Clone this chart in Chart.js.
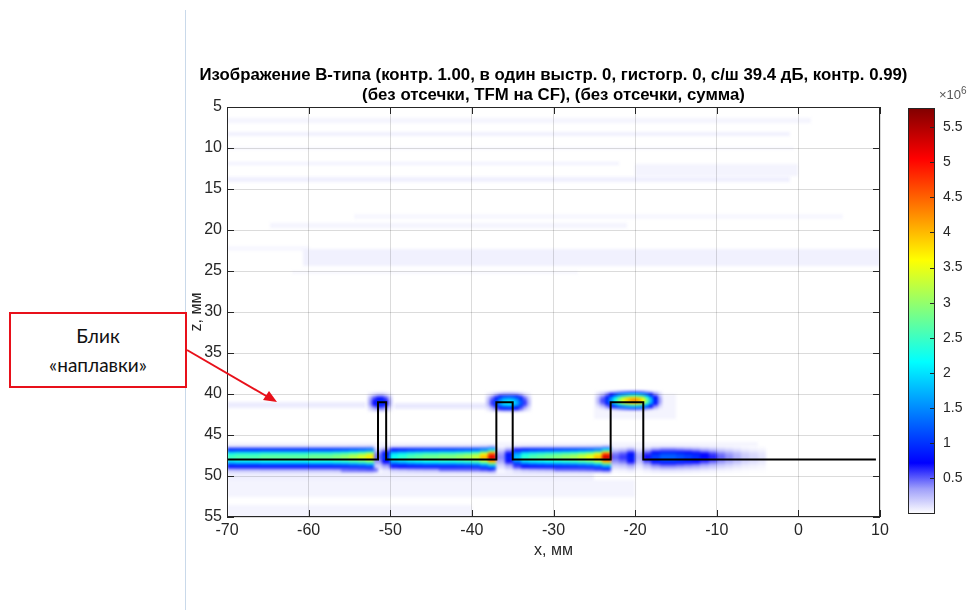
<!DOCTYPE html>
<html>
<head>
<meta charset="utf-8">
<script src="https://cdn.jsdelivr.net/npm/chart.js@4/dist/chart.umd.min.js"></script>
<style>
  body { margin: 0; width: 977px; height: 610px; position: relative; overflow: hidden; background: #fff; font-family: "Liberation Sans", Arial, sans-serif; }
  #main { position: absolute; left: 0; top: 0; }
  #cbar { position: absolute; left: 900px; top: 90px; }
  #divider { position: absolute; left: 185px; top: 10px; width: 1px; height: 600px; background: #c9d9ea; }
  #note { position: absolute; left: 9px; top: 312px; width: 174px; height: 72px; border: 2px solid #e8101a; background: #fff;
          display: flex; flex-direction: column; justify-content: center; align-items: center;
          font-family: Lato, "Open Sans", sans-serif; font-size: 19px; line-height: 29px; color: #111; }
  #arrow { position: absolute; left: 0; top: 0; }
  #exp { position: absolute; left: 939px; top: 85px; font-size: 13px; color: #555; }
  #exp sup { font-size: 10px; }
</style>
</head>
<body>
<div id="divider"></div>
<canvas id="main" width="977" height="610"></canvas>
<canvas id="cbar" width="77" height="440"></canvas>
<div id="exp">×10<sup>6</sup></div>
<div id="note"><div>Блик</div><div>«наплавки»</div></div>
<svg id="arrow" width="977" height="610">
  <line x1="187" y1="350" x2="268" y2="397" stroke="#e8101a" stroke-width="2"/>
  <polygon points="277,402 263,400 269,391" fill="#e8101a"/>
</svg>
<script>
// ---- data (amplitudes in 10^6, coordinates in mm) ----
const titleLines = [
  'Изображение B-типа (контр. 1.00, в один выстр. 0, гистогр. 0, с/ш 39.4 дБ, контр. 0.99)',
  '(без отсечки, TFM на CF), (без отсечки, сумма)'
];
const xTicks = [-70, -60, -50, -40, -30, -20, -10, 0, 10];
const zTicks = [5, 10, 15, 20, 25, 30, 35, 40, 45, 50, 55];
const cbTicks = [0.5, 1, 1.5, 2, 2.5, 3, 3.5, 4, 4.5, 5, 5.5];
const cbMax = 5.77;

// black weld profile
const profileX = [-70, -51.5, -51.5, -50.5, -50.5, -37, -37, -35, -35, -23, -23, -19, -19, 9.5];
const profileZ = [48, 48, 41, 41, 48, 48, 41, 41, 48, 48, 41, 41, 48, 48];

// bright bottom band: peak per 1 mm column starting at bandX
const bandX = [-70, -69, -68, -67, -66, -65, -64, -63, -62, -61, -60, -59, -58, -57, -56, -55, -54, -53,
  -52, -51,
  -50, -49, -48, -47, -46, -45, -44, -43, -42, -41, -40, -39, -38,
  -37, -36,
  -35, -34, -33, -32, -31, -30, -29, -28, -27, -26, -25, -24,
  -23, -22, -21, -20,
  -19, -18, -17, -16, -15, -14, -13, -12, -11, -10, -9, -8, -7, -6, -5];
const bandPeak = [2.6, 2.7, 2.7, 2.7, 2.8, 2.8, 2.8, 2.8, 2.8, 2.8, 2.9, 2.9, 2.9, 3.0, 3.1, 3.3, 3.5, 3.8,
  0.5, 1.0,
  2.3, 2.5, 2.7, 2.8, 2.9, 2.9, 3.0, 3.0, 3.1, 3.2, 3.4, 4.1, 5.3,
  0.4, 0.9,
  1.9, 2.5, 2.7, 2.8, 2.9, 3.0, 3.1, 3.2, 3.4, 3.6, 4.1, 5.4,
  0.5, 0.6, 0.9, 0.3,
  0.7, 1.1, 1.3, 1.3, 1.2, 1.1, 1.0, 0.8, 0.65, 0.5, 0.4, 0.3, 0.2, 0.15, 0.1];
// band cross-section (row centres in z, share of the column peak)
const bandRowZ = [46.45, 46.75, 47.05, 47.35, 47.65, 47.95, 48.25, 48.55, 48.85, 49.15, 49.45];
const bandShare = [0.08, 0.35, 0.65, 0.9, 1.0, 0.95, 0.75, 0.5, 0.3, 0.15, 0.06];

// reflections above the crown (0.5 mm columns)
const blobAX = [-52.5, -52, -51.5, -51, -50.5, -50];
const blobA = [0.35, 0.7, 0.95, 1.0, 0.7, 0.3];
const blobBX = [-38, -37.5, -37, -36.5, -36, -35.5, -35, -34.5, -34, -33.5, -33];
const blobB = [0.25, 0.6, 1.1, 1.6, 2.0, 2.1, 2.0, 1.7, 1.2, 0.6, 0.25];
const blobCX = [-24.5, -24, -23.5, -23, -22.5, -22, -21.5, -21, -20.5, -20, -19.5, -19, -18.5, -18, -17.5, -17];
const blobC = [0.25, 0.55, 1.0, 1.6, 2.3, 3.0, 3.5, 3.9, 4.2, 4.3, 4.1, 3.7, 2.8, 1.8, 0.9, 0.35];
const blobZ = [41.0, 41.0, 40.8];
const blobOffset = [-1.05, -0.75, -0.45, -0.15, 0.15, 0.45, 0.75, 1.05];
const blobShare = [0.14, 0.45, 0.8, 0.98, 1.0, 0.78, 0.42, 0.14];

// weak noise / halo: [x0, x1, z0, z1, value]
const faintStrips = [
  [-70, 1.5, 6.4, 6.9, 0.04], [-70, -1, 8.0, 8.5, 0.05], [-70, -0.5, 9.9, 10.3, 0.03],
  [-70, -22, 11.7, 12.1, 0.05], [-20, 0, 12.0, 13.4, 0.04], [-70, -1, 13.5, 14.1, 0.06],
  [-54.5, 5.5, 18.0, 18.6, 0.03], [-64.7, -21, 19.2, 19.7, 0.04],
  [-70, -60, 22.0, 22.5, 0.03], [-60.7, 10, 22.3, 24.4, 0.05], [-62, -27, 25.0, 25.4, 0.03],
  [-70, -53, 41.0, 41.7, 0.07], [-49.5, -37.7, 41.1, 41.8, 0.08], [-25, -15, 40.0, 43.0, 0.04],
  [-70, -5, 45.8, 46.3, 0.04], [-70, -25, 49.6, 50.5, 0.06], [-70, -20, 50.5, 52.5, 0.04],
  [-70, -40, 53.5, 55, 0.04],
  [-56, -51.5, 49.0, 49.5, 0.45], [-44, -37.5, 48.9, 49.4, 0.5], [-30, -23, 48.9, 49.4, 0.5]
];

// colour map (jet with a white lower end)
const cmapStops = [0, 0.35, 0.72, 2.16, 3.61, 5.05, 5.77];
const cmapColors = [[255, 255, 255], [160, 160, 250], [0, 0, 255], [0, 255, 255], [255, 255, 0], [255, 0, 0], [128, 0, 0]];

function jet(v) {
  if (v <= cmapStops[0]) return cmapColors[0];
  for (let i = 1; i < cmapStops.length; i++) {
    if (v <= cmapStops[i]) {
      const t = (v - cmapStops[i - 1]) / (cmapStops[i] - cmapStops[i - 1]);
      const a = cmapColors[i - 1], b = cmapColors[i];
      return [0, 1, 2].map(k => Math.round(a[k] + (b[k] - a[k]) * t));
    }
  }
  return cmapColors[cmapColors.length - 1];
}

const FONT = '"Liberation Sans", Arial, sans-serif';
const GRID = 'rgba(0,0,0,0.14)';
const INK = '#262626';

// draws the B-scan image cells under the grid
const heatPlugin = {
  id: 'heat',
  beforeDraw(chart) {
    const { ctx, chartArea: a, scales: { x, y } } = chart;
    const W = chart.width, H = chart.height;
    const vals = new Float32Array(W * H);
    const cell = (x0, x1, z0, z1, v) => {
      if (v <= 0) return;
      const l = Math.max(Math.round(x.getPixelForValue(x0)), 0);
      const r = Math.min(Math.round(x.getPixelForValue(x1)), W);
      const t = Math.max(Math.round(y.getPixelForValue(z0)), 0);
      const b = Math.min(Math.round(y.getPixelForValue(z1)), H);
      for (let py = t; py < b; py++) {
        for (let px = l; px < r; px++) {
          const i = py * W + px;
          if (v > vals[i]) vals[i] = v;
        }
      }
    };
    faintStrips.forEach(s => cell(s[0], s[1], s[2], s[3], s[4]));
    bandX.forEach((bx, i) => {
      bandRowZ.forEach((z, k) => cell(bx, bx + 1, z - 0.15, z + 0.15, bandPeak[i] * bandShare[k]));
    });
    [[blobAX, blobA], [blobBX, blobB], [blobCX, blobC]].forEach(([xs, peaks], n) => {
      xs.forEach((bx, i) => {
        blobOffset.forEach((off, k) => {
          const z = blobZ[n] + off;
          cell(bx - 0.25, bx + 0.25, z - 0.15, z + 0.15, peaks[i] * blobShare[k]);
        });
      });
    });
    const off = document.createElement('canvas');
    off.width = W; off.height = H;
    const octx = off.getContext('2d');
    const img = octx.createImageData(W, H);
    for (let i = 0; i < vals.length; i++) {
      if (vals[i] <= 0) continue;
      const c = jet(vals[i]);
      img.data[i * 4] = c[0]; img.data[i * 4 + 1] = c[1]; img.data[i * 4 + 2] = c[2]; img.data[i * 4 + 3] = 255;
    }
    octx.putImageData(img, 0, 0);
    ctx.save();
    ctx.beginPath();
    ctx.rect(a.left, a.top, a.width, a.height);
    ctx.clip();
    ctx.filter = 'blur(1.6px)';
    ctx.drawImage(off, 0, 0);
    ctx.restore();
  }
};

// axes box, inward tick marks and the two-line title
const framePlugin = {
  id: 'frame',
  afterDraw(chart) {
    const { ctx, chartArea: a, scales: { x, y } } = chart;
    ctx.save();
    ctx.strokeStyle = INK;
    ctx.lineWidth = 1;
    ctx.strokeRect(Math.round(a.left) + 0.5, Math.round(a.top) + 0.5, Math.round(a.width) - 1, Math.round(a.height) - 1);
    ctx.beginPath();
    x.ticks.forEach(t => {
      const px = Math.round(x.getPixelForValue(t.value)) + 0.5;
      ctx.moveTo(px, a.bottom); ctx.lineTo(px, a.bottom - 7);
      ctx.moveTo(px, a.top); ctx.lineTo(px, a.top + 7);
    });
    y.ticks.forEach(t => {
      const py = Math.round(y.getPixelForValue(t.value)) + 0.5;
      ctx.moveTo(a.left, py); ctx.lineTo(a.left + 7, py);
      ctx.moveTo(a.right, py); ctx.lineTo(a.right - 7, py);
    });
    ctx.stroke();
    ctx.fillStyle = '#000';
    ctx.font = 'bold 16.8px ' + FONT;
    ctx.textAlign = 'center';
    ctx.textBaseline = 'middle';
    const cx = (a.left + a.right) / 2;
    ctx.fillText(titleLines[0], cx, 75);
    ctx.fillText(titleLines[1], cx, 95);
    ctx.restore();
  }
};

new Chart(document.getElementById('main'), {
  type: 'scatter',
  data: {
    datasets: [{
      data: profileX.map((px, i) => ({ x: px, y: profileZ[i] })),
      showLine: true,
      borderColor: '#000',
      borderWidth: 2,
      pointRadius: 0,
      fill: false
    }]
  },
  options: {
    responsive: false,
    animation: false,
    layout: { padding: { left: 182, right: 97, top: 107, bottom: 48 } },
    plugins: { legend: { display: false }, tooltip: { enabled: false } },
    scales: {
      x: {
        type: 'linear', min: -70, max: 10,
        afterBuildTicks: s => { s.ticks = xTicks.map(v => ({ value: v })); },
        afterFit: s => { s.height = 45; },
        grid: { color: GRID, drawTicks: false },
        border: { display: false },
        ticks: { padding: 4, color: INK, font: { family: FONT, size: 16 }, maxRotation: 0, autoSkip: false, callback: v => String(v) },
        title: { display: true, text: 'x, мм', color: INK, font: { family: FONT, size: 16 }, padding: { top: 0, bottom: 2 } }
      },
      y: {
        type: 'linear', min: 5, max: 55, reverse: true,
        afterBuildTicks: s => { s.ticks = zTicks.map(v => ({ value: v })); },
        afterFit: s => { s.width = 45; },
        grid: { color: GRID, drawTicks: false },
        border: { display: false },
        ticks: { padding: 5, color: INK, font: { family: FONT, size: 16 }, autoSkip: false, callback: v => String(v) },
        title: { display: true, text: 'z, мм', color: INK, font: { family: FONT, size: 16 }, padding: { top: 5, bottom: 0 } }
      }
    }
  },
  plugins: [heatPlugin, framePlugin]
});

// colour bar
function cbGradient(chart) {
  const { chartArea, scales } = chart;
  if (!chartArea) return '#00f';
  const y = scales.y;
  const g = chart.ctx.createLinearGradient(0, y.getPixelForValue(0), 0, y.getPixelForValue(cbMax));
  cmapStops.forEach((v, i) => {
    const c = cmapColors[i];
    g.addColorStop(v / cbMax, 'rgb(' + c.join(',') + ')');
  });
  return g;
}

const cbFramePlugin = {
  id: 'cbFrame',
  afterDraw(chart) {
    const { ctx, chartArea: a, scales: { y } } = chart;
    ctx.save();
    ctx.strokeStyle = INK;
    ctx.lineWidth = 1;
    ctx.strokeRect(Math.round(a.left) + 0.5, Math.round(a.top) + 0.5, Math.round(a.width) - 1, Math.round(a.height) - 1);
    ctx.beginPath();
    y.ticks.forEach(t => {
      const py = Math.round(y.getPixelForValue(t.value)) + 0.5;
      ctx.moveTo(a.right, py); ctx.lineTo(a.right - 5, py);
    });
    ctx.stroke();
    ctx.restore();
  }
};

new Chart(document.getElementById('cbar'), {
  type: 'bar',
  data: {
    labels: [''],
    datasets: [{
      data: [cbMax],
      backgroundColor: c => cbGradient(c.chart),
      borderWidth: 0,
      barPercentage: 1,
      categoryPercentage: 1
    }]
  },
  options: {
    responsive: false,
    animation: false,
    layout: { padding: { left: 8, top: 18, bottom: 12, right: 0 } },
    plugins: { legend: { display: false }, tooltip: { enabled: false } },
    scales: {
      x: { display: false },
      y: {
        position: 'right', min: 0, max: cbMax,
        afterBuildTicks: s => { s.ticks = cbTicks.map(v => ({ value: v })); },
        afterFit: s => { s.width = 42; },
        grid: { display: false, drawTicks: false },
        border: { display: false },
        ticks: { padding: 8, color: INK, font: { family: FONT, size: 14 }, callback: v => String(v) }
      }
    }
  },
  plugins: [cbFramePlugin]
});
</script>
</body>
</html>
